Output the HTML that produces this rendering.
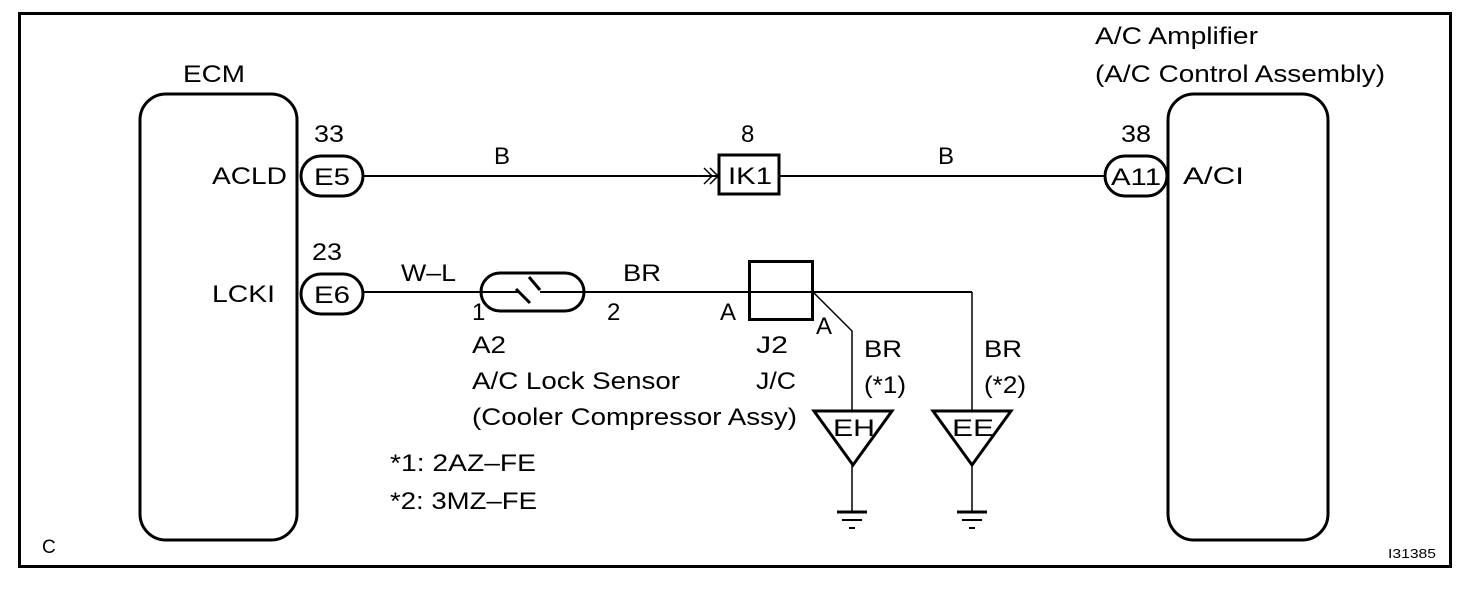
<!DOCTYPE html>
<html><head><meta charset="utf-8"><style>
html,body{margin:0;padding:0;background:#fff}
svg{display:block}
text{font-family:"Liberation Sans",Arial,sans-serif;font-size:24px;fill:#000}
</style></head><body>
<svg width="1472" height="590" viewBox="0 0 1472 590" xmlns="http://www.w3.org/2000/svg">
<rect x="19.5" y="13.5" width="1431" height="553" fill="none" stroke="#000" stroke-width="3"/>
<!-- ECM -->
<rect x="140" y="94" width="157" height="446" rx="26" fill="none" stroke="#000" stroke-width="3"/>
<text x="183" y="82" textLength="62" lengthAdjust="spacingAndGlyphs">ECM</text>
<text x="212" y="184" textLength="75" lengthAdjust="spacingAndGlyphs">ACLD</text>
<text x="212" y="302" textLength="63" lengthAdjust="spacingAndGlyphs">LCKI</text>
<!-- Amp -->
<rect x="1168" y="94" width="160" height="446" rx="26" fill="none" stroke="#000" stroke-width="3"/>
<text x="1095" y="44" textLength="163" lengthAdjust="spacingAndGlyphs">A/C Amplifier</text>
<text x="1095" y="82" textLength="290" lengthAdjust="spacingAndGlyphs">(A/C Control Assembly)</text>
<text x="1183" y="184" textLength="61" lengthAdjust="spacingAndGlyphs">A/CI</text>
<!-- E5 -->
<rect x="301" y="156" width="62" height="40" rx="20" fill="#fff" stroke="#000" stroke-width="3"/>
<text x="314" y="185" textLength="36" lengthAdjust="spacingAndGlyphs">E5</text>
<text x="314" y="142" textLength="30" lengthAdjust="spacingAndGlyphs">33</text>
<line x1="363" y1="176" x2="718" y2="176" stroke="#000" stroke-width="2"/>
<path d="M704 168 L712 176 L704 184 M710 168 L718 176 L710 184" fill="none" stroke="#000" stroke-width="1.5"/>
<text x="494" y="164">B</text>
<rect x="719" y="155" width="60" height="39" fill="#fff" stroke="#000" stroke-width="3"/>
<text x="728" y="184" textLength="44" lengthAdjust="spacingAndGlyphs">IK1</text>
<text x="741" y="142">8</text>
<line x1="779" y1="176" x2="1106" y2="176" stroke="#000" stroke-width="2"/>
<text x="938" y="164">B</text>
<rect x="1105" y="156" width="62" height="40" rx="20" fill="#fff" stroke="#000" stroke-width="3"/>
<text x="1111" y="185" textLength="50" lengthAdjust="spacingAndGlyphs">A11</text>
<text x="1121" y="142" textLength="30" lengthAdjust="spacingAndGlyphs">38</text>
<!-- E6 -->
<rect x="301" y="274" width="62" height="40" rx="20" fill="#fff" stroke="#000" stroke-width="3"/>
<text x="314" y="303" textLength="36" lengthAdjust="spacingAndGlyphs">E6</text>
<text x="312" y="260" textLength="30" lengthAdjust="spacingAndGlyphs">23</text>
<line x1="363" y1="292" x2="972" y2="292" stroke="#000" stroke-width="2"/>
<text x="401" y="281" textLength="55" lengthAdjust="spacingAndGlyphs">W–L</text>
<rect x="481" y="273" width="103" height="38" rx="19" fill="#fff" stroke="#000" stroke-width="3"/>
<line x1="481" y1="292" x2="518" y2="292" stroke="#000" stroke-width="2"/>
<line x1="540" y1="292" x2="584" y2="292" stroke="#000" stroke-width="2"/>
<line x1="516" y1="289" x2="530" y2="303" stroke="#000" stroke-width="3"/>
<line x1="529" y1="277" x2="540" y2="290" stroke="#000" stroke-width="3"/>
<text x="472" y="320">1</text>
<text x="607" y="320">2</text>
<text x="472" y="353" textLength="34" lengthAdjust="spacingAndGlyphs">A2</text>
<text x="472" y="389" textLength="208" lengthAdjust="spacingAndGlyphs">A/C Lock Sensor</text>
<text x="472" y="425" textLength="325" lengthAdjust="spacingAndGlyphs">(Cooler Compressor Assy)</text>
<text x="623" y="281" textLength="38" lengthAdjust="spacingAndGlyphs">BR</text>
<rect x="749.5" y="261.5" width="63" height="58" fill="none" stroke="#000" stroke-width="3"/>
<text x="720" y="320">A</text>
<text x="816" y="334">A</text>
<text x="756" y="353" textLength="32" lengthAdjust="spacingAndGlyphs">J2</text>
<text x="756" y="389" textLength="40" lengthAdjust="spacingAndGlyphs">J/C</text>
<polyline points="813,292 852,331 852,412" fill="none" stroke="#000" stroke-width="1.5"/>
<line x1="972" y1="292" x2="972" y2="412" stroke="#000" stroke-width="1.5"/>
<text x="864" y="357" textLength="38" lengthAdjust="spacingAndGlyphs">BR</text>
<text x="864" y="393" textLength="42" lengthAdjust="spacingAndGlyphs">(*1)</text>
<text x="984" y="357" textLength="38" lengthAdjust="spacingAndGlyphs">BR</text>
<text x="984" y="393" textLength="42" lengthAdjust="spacingAndGlyphs">(*2)</text>
<polygon points="814,411 892,411 853,465" fill="#fff" stroke="#000" stroke-width="3"/>
<text x="833" y="436" textLength="42" lengthAdjust="spacingAndGlyphs">EH</text>
<polygon points="933,411 1011,411 972,465" fill="#fff" stroke="#000" stroke-width="3"/>
<text x="952" y="436" textLength="42" lengthAdjust="spacingAndGlyphs">EE</text>
<line x1="852" y1="465" x2="852" y2="512" stroke="#000" stroke-width="1.5"/>
<line x1="972" y1="465" x2="972" y2="512" stroke="#000" stroke-width="1.5"/>
<line x1="837" y1="512" x2="867" y2="512" stroke="#000" stroke-width="3"/>
<line x1="842" y1="520" x2="862" y2="520" stroke="#000" stroke-width="2"/>
<line x1="849" y1="528" x2="855" y2="528" stroke="#000" stroke-width="2"/>
<line x1="957" y1="512" x2="987" y2="512" stroke="#000" stroke-width="3"/>
<line x1="962" y1="520" x2="982" y2="520" stroke="#000" stroke-width="2"/>
<line x1="969" y1="528" x2="975" y2="528" stroke="#000" stroke-width="2"/>
<text x="390" y="471" textLength="146" lengthAdjust="spacingAndGlyphs">*1: 2AZ–FE</text>
<text x="390" y="509" textLength="147" lengthAdjust="spacingAndGlyphs">*2: 3MZ–FE</text>
<text x="42" y="553" style="font-size:19px">C</text>
<text x="1388" y="558" style="font-size:13px" textLength="48" lengthAdjust="spacingAndGlyphs">I31385</text>
</svg>
</body></html>
